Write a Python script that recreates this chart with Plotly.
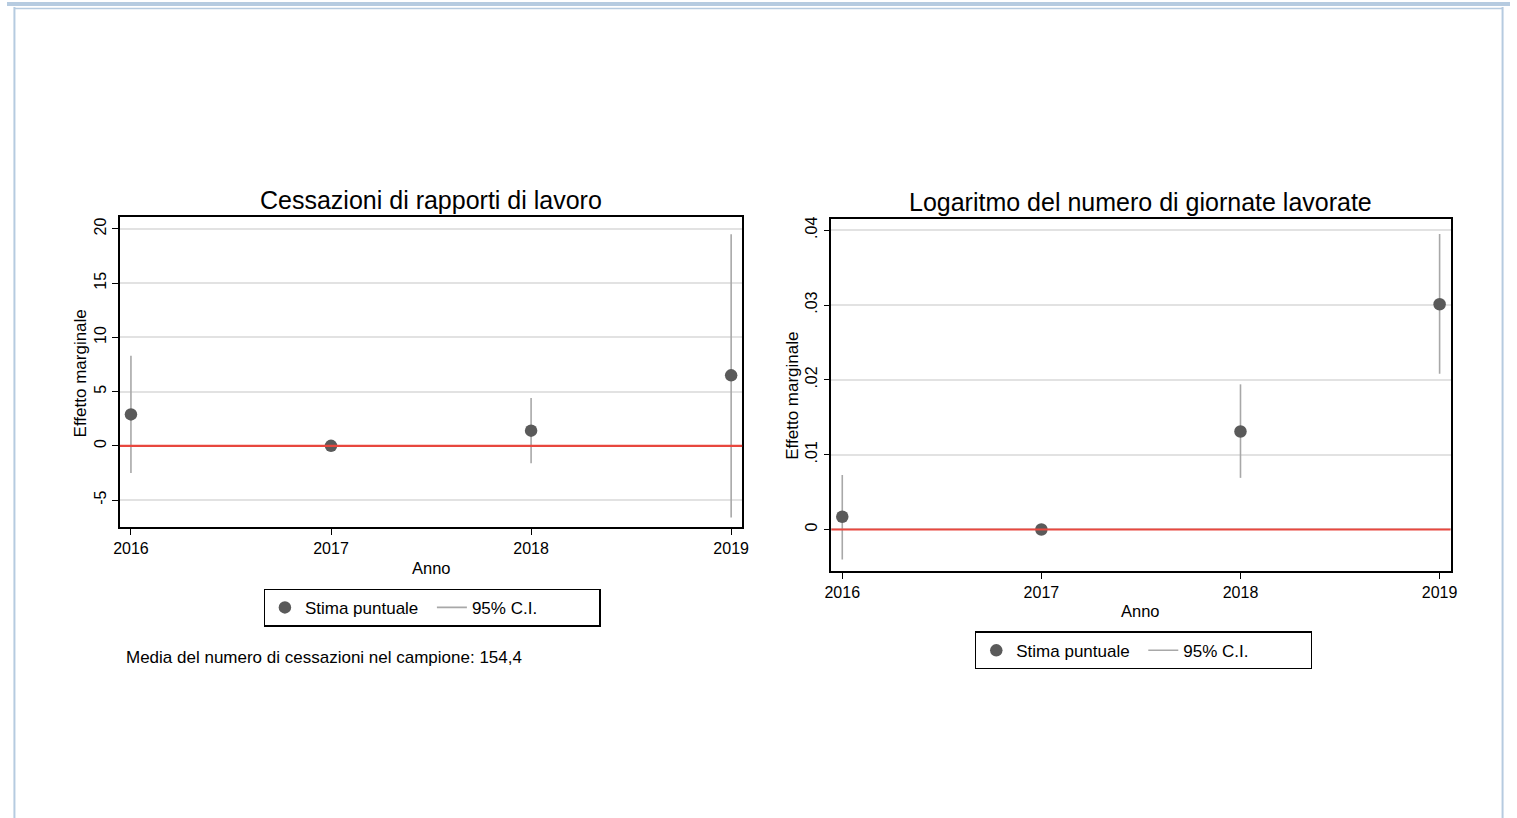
import plotly.graph_objects as go

# ---- data -------------------------------------------------------------
years = [2016, 2017, 2018, 2019]

# Cessazioni di rapporti di lavoro: point estimates and 95% CI bounds
cess_est = [2.9, 0.0, 1.4, 6.5]
cess_lo = [-2.5, 0.0, -1.6, -6.6]
cess_hi = [8.3, 0.0, 4.4, 19.5]
cess_ticks = [-5, 0, 5, 10, 15, 20]
cess_ticktext = ["-5", "0", "5", "10", "15", "20"]

# Logaritmo del numero di giornate lavorate
giorn_est = [0.0017, 0.0, 0.0131, 0.0301]
giorn_lo = [-0.0040, 0.0, 0.0069, 0.0208]
giorn_hi = [0.0073, 0.0, 0.0194, 0.0395]
giorn_ticks = [0, 0.01, 0.02, 0.03, 0.04]
giorn_ticktext = ["0", ".01", ".02", ".03", ".04"]

left_title = "Cessazioni di rapporti di lavoro"
right_title = "Logaritmo del numero di giornate lavorate"
y_title = "Effetto marginale"
x_title = "Anno"
point_name = "Stima puntuale"
ci_name = "95% C.I."
note_text = "Media del numero di cessazioni nel campione: 154,4"

# ---- page geometry ------------------------------------------------------
W, H = 1517, 818


def px(x):
    return x / W


def py(y):
    return 1 - y / H


FONT = "Liberation Sans, Arial, Helvetica, sans-serif"
POINT_COLOR = "#5a5a5a"
CI_COLOR = "#a8a8a8"
GRID_COLOR = "#e2e2e2"
REF_COLOR = "#e8473e"
FRAME_BLUE = "#b6cbe0"


def ci_segments(xs, lo, hi):
    """Vertical CI segments separated by gaps."""
    sx, sy = [], []
    for x, a, b in zip(xs, lo, hi):
        sx += [x, x, None]
        sy += [a, b, None]
    return sx, sy


fig = go.Figure()

panels = [
    dict(est=cess_est, lo=cess_lo, hi=cess_hi, xa="x", ya="y", legend="legend"),
    dict(est=giorn_est, lo=giorn_lo, hi=giorn_hi, xa="x2", ya="y2", legend="legend2"),
]

for p in panels:
    sx, sy = ci_segments(years, p["lo"], p["hi"])
    fig.add_trace(go.Scatter(
        x=sx, y=sy, mode="lines", name=ci_name,
        line=dict(color=CI_COLOR, width=1.6),
        xaxis=p["xa"], yaxis=p["ya"], legend=p["legend"], legendrank=2,
        hoverinfo="skip",
    ))
    fig.add_trace(go.Scatter(
        x=years, y=p["est"], mode="markers", name=point_name,
        marker=dict(color=POINT_COLOR, size=12.5, line=dict(width=0)),
        xaxis=p["xa"], yaxis=p["ya"], legend=p["legend"], legendrank=1,
    ))

axis_common = dict(
    showline=True, linecolor="black", linewidth=1.5, mirror=True,
    ticks="outside", ticklen=6, tickwidth=1.3, tickcolor="black",
    tickfont=dict(family=FONT, size=16, color="black"),
    zeroline=False,
)

xaxis_common = dict(
    axis_common, range=[2015.945, 2019.055],
    tickvals=years, ticktext=[str(y) for y in years], showgrid=False,
)

yaxis_common = dict(
    axis_common, showgrid=True, gridcolor=GRID_COLOR, gridwidth=2,
    tickangle=-90,
)

legend_common = dict(
    orientation="h", xanchor="left", yanchor="top",
    bordercolor="black", borderwidth=1.3, bgcolor="white",
    font=dict(family=FONT, size=17, color="black"),
    entrywidth=122, entrywidthmode="pixels", traceorder="normal",
)

fig.update_layout(
    width=W, height=H,
    margin=dict(l=0, r=0, t=0, b=0),
    paper_bgcolor="white", plot_bgcolor="white",
    font=dict(family=FONT, color="black"),
    showlegend=True,
    xaxis=dict(xaxis_common, domain=[px(114), px(742)], anchor="y"),
    yaxis=dict(yaxis_common, domain=[py(526.5), py(215.5)], anchor="x",
               range=[-7.5, 21.1], tickvals=cess_ticks, ticktext=cess_ticktext),
    xaxis2=dict(xaxis_common, domain=[px(832), px(1457)], anchor="y2"),
    yaxis2=dict(yaxis_common, domain=[py(570.5), py(217.5)], anchor="x2",
                range=[-0.00556, 0.0415], tickvals=giorn_ticks,
                ticktext=giorn_ticktext),
    legend=dict(legend_common, x=px(259), y=py(588)),
    legend2=dict(legend_common, x=px(977), y=py(631)),
)

# zero reference lines
for xa, ya in [("x", "y"), ("x2", "y2")]:
    fig.add_shape(type="line", xref=f"{xa} domain", yref=ya,
                  x0=0, x1=1, y0=0, y1=0,
                  line=dict(color=REF_COLOR, width=2.2), layer="above")

# titles and axis labels
ann = [
    dict(text=left_title, x=px(428), y=py(198), size=25),
    dict(text=right_title, x=px(1144), y=py(200), size=25),
    dict(text=x_title, x=px(428), y=py(567), size=16.5),
    dict(text=x_title, x=px(1144), y=py(610), size=16.5),
    dict(text=y_title, x=px(74), y=py(372), size=17, angle=-90),
    dict(text=y_title, x=px(792), y=py(395), size=17, angle=-90),
]
for a in ann:
    fig.add_annotation(
        text=a["text"], x=a["x"], y=a["y"], xref="paper", yref="paper",
        xanchor="center", yanchor="middle", showarrow=False,
        textangle=a.get("angle", 0),
        font=dict(family=FONT, size=a["size"], color="black"),
    )

fig.add_annotation(
    text=note_text, x=px(118), y=py(657), xref="paper", yref="paper",
    xanchor="left", yanchor="middle", showarrow=False,
    font=dict(family=FONT, size=17, color="black"),
)

# light-blue page frame
fig.add_shape(type="rect", xref="paper", yref="paper",
              x0=0, x1=1, y0=py(4), y1=1,
              fillcolor=FRAME_BLUE, line=dict(width=0), layer="below")
fig.add_shape(type="line", xref="paper", yref="paper",
              x0=px(7), x1=px(1510), y0=py(6.5), y1=py(6.5),
              line=dict(color=FRAME_BLUE, width=1.5))
fig.add_shape(type="line", xref="paper", yref="paper",
              x0=px(7.5), x1=px(7.5), y0=0, y1=py(5),
              line=dict(color=FRAME_BLUE, width=2))
fig.add_shape(type="line", xref="paper", yref="paper",
              x0=px(1509.5), x1=px(1509.5), y0=0, y1=py(5),
              line=dict(color=FRAME_BLUE, width=2))

fig.write_html("out.html")
